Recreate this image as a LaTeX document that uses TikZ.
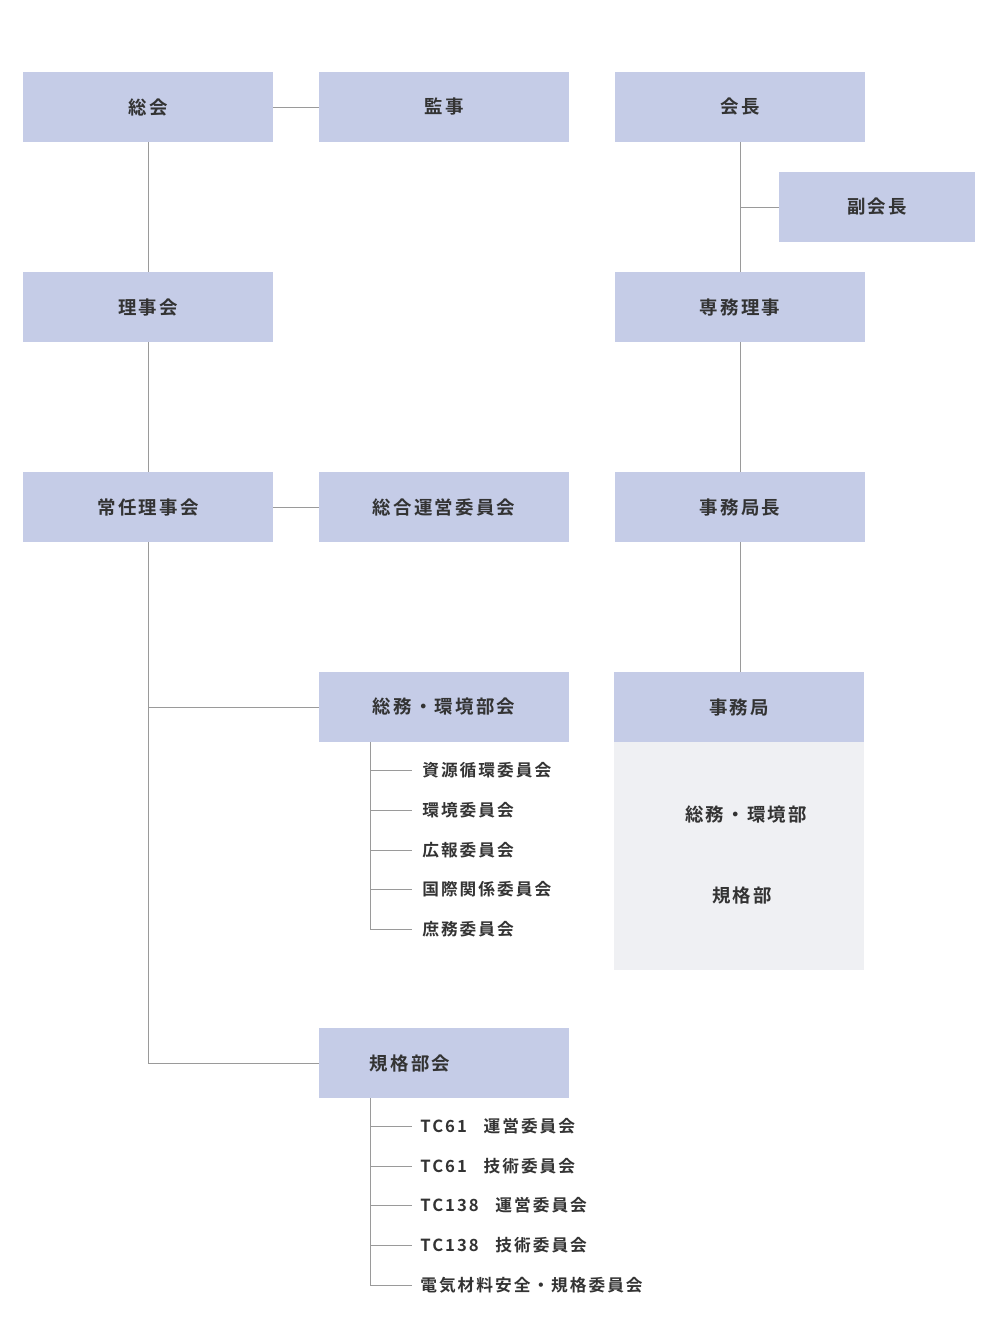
\documentclass[tikz,border=0pt]{standalone}
\usepackage{fontspec}
\setmainfont{Noto Sans CJK JP}[BoldFont={Noto Sans CJK JP Bold},LetterSpace=12]
\usetikzlibrary{positioning}
\definecolor{boxblue}{HTML}{C5CCE7}
\definecolor{boxgray}{HTML}{EFF0F3}
\definecolor{txtgray}{HTML}{333333}
\definecolor{linegray}{HTML}{9A9A9A}
\tikzset{
  orgbox/.style={fill=boxblue,minimum width=5cm,minimum height=1.4cm,inner sep=0pt,text=txtgray,font=\bfseries\fontsize{10.5}{12}\selectfont},
  subitem/.style={anchor=west,inner sep=0pt,text=txtgray,font=\bfseries\fontsize{9.5}{11}\selectfont},
  link/.style={draw=linegray,line width=0.5pt}
}
\begin{document}
\begin{tikzpicture}[x=0.02cm,y=-0.02cm]
\useasboundingbox (0,0) rectangle (1000,1326);

% top row
\node[orgbox] (sokai) at (148,107) {総会};
\node[orgbox] (kanji) at (444,107) {監事};
\node[orgbox] (kaicho) at (740,107) {会長};
\node[orgbox,minimum width=3.92cm] (fuku) at (877,207) {副会長};
\node[orgbox] (rijikai) at (148,307) {理事会};
\node[orgbox] (senmu) at (740,307) {専務理事};
\node[orgbox] (jonin) at (148,507) {常任理事会};
\node[orgbox] (sogo) at (444,507) {総合運営委員会};
\node[orgbox] (kyokucho) at (740,507) {事務局長};

% bukai
\node[orgbox] (somubu) at (444,707) {総務・環境部会};
\node[orgbox] (kikakubu) at (444,1063) {};
\node[text=txtgray,font=\bfseries\fontsize{10.5}{12}\selectfont,inner sep=0pt] at (410,1063) {規格部会};

% jimukyoku
\fill[boxgray] (614,742) rectangle (864,970);
\node[orgbox] (jimu) at (739,707) {事務局};
\node[text=txtgray,font=\bfseries\fontsize{10.5}{12}\selectfont,inner sep=0pt] (jsomu) at (746,815) {総務・環境部};
\node[text=txtgray,font=\bfseries\fontsize{10.5}{12}\selectfont,inner sep=0pt] (jkikaku) at (742,895) {規格部};

% connectors
\draw[link] (sokai) -- (kanji);
\draw[link] (jonin) -- (sogo);
\draw[link] (sokai) -- (rijikai);
\draw[link] (rijikai) -- (jonin);
\draw[link] (jonin.south) -- (148,1063) -- (kikakubu.west);
\draw[link] (148,707) -- (somubu.west);
\draw[link] (kaicho) -- (senmu);
\draw[link] (740,207) -- (fuku.west);
\draw[link] (senmu) -- (kyokucho);
\draw[link] (kyokucho) -- (740,672);

% committees
\coordinate (sa) at (370,742);
\draw[link] (sa) -- (370,929);
\foreach \y/\t [count=\i] in {770/資源循環委員会,810/環境委員会,850/広報委員会,889/国際関係委員会,929/庶務委員会}
{
  \draw[link] (370,\y) -- (412,\y);
  \node[subitem] (somu\i) at (422,\y) {\t};
}
\coordinate (ka) at (370,1098);
\draw[link] (ka) -- (370,1285);
\foreach \y/\t [count=\i] in {1126/TC61\quad 運営委員会,1166/TC61\quad 技術委員会,1205/TC138\quad 運営委員会,1245/TC138\quad 技術委員会,1285/電気材料安全・規格委員会}
{
  \draw[link] (370,\y) -- (412,\y);
  \node[subitem] (kika\i) at (420,\y) {\t};
}
\end{tikzpicture}
\end{document}
